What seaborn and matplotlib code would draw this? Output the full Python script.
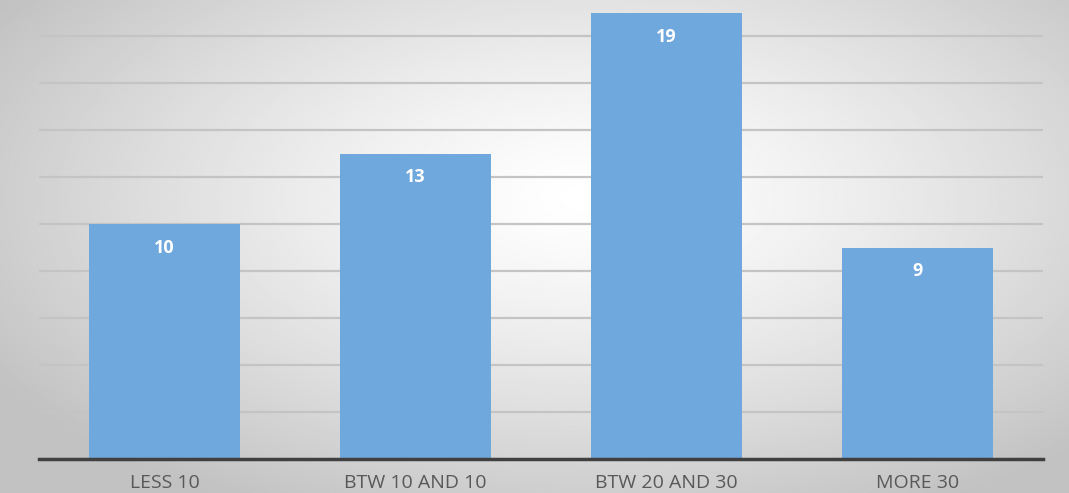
import numpy as np
import pandas as pd
import seaborn as sns
import matplotlib.pyplot as plt

categories = ["LESS 10", "BTW 10 AND 10", "BTW 20 AND 30", "MORE 30"]
counts = [10, 13, 19, 9]

df = pd.DataFrame({"group": categories, "count": counts})

sns.set_theme(style="white")
plt.rcParams['font.family'] = ['Open Sans', 'DejaVu Sans']

fig = plt.figure(figsize=(10.69, 4.93), dpi=100)

# radial gradient background
bg = fig.add_axes([0, 0, 1, 1], zorder=0)
yy, xx = np.mgrid[-1:1:300j, -1:1:600j]
r = np.sqrt(((xx - 0.1) / 1.0) ** 2 + ((yy + 0.2) / 1.1) ** 2)
bg.imshow(1 - 0.24 * np.clip(r / 1.3, 0, 1) ** 1.3, cmap="gray", vmin=0, vmax=1,
          aspect="auto", extent=[0, 1, 0, 1], interpolation="bilinear")
bg.axis("off")

ax = fig.add_axes([39 / 1069, 1 - 459 / 493, 1004 / 1069, 459 / 493], zorder=1)
ax.patch.set_alpha(0)
sns.barplot(df, x="group", y="count", color="#6fa8dc", saturation=1, width=0.6,
            edgecolor="none", linewidth=0, ax=ax, zorder=3)

ax.set_ylim(0, 459 / 23.5)
ax.set_yticks(np.arange(2, 20, 2))
ax.yaxis.grid(True, color="#c4c4c4", linewidth=1.6, zorder=0)
ax.set_axisbelow(True)
ax.tick_params(axis="y", left=False, labelleft=False)
ax.tick_params(axis="x", bottom=False, labelsize=14, colors="#595959", pad=5)
ax.set_xlabel("")
ax.set_ylabel("")
for s in ["top", "right", "left"]:
    ax.spines[s].set_visible(False)
ax.spines["bottom"].set_color("#404040")
ax.spines["bottom"].set_linewidth(2.5)
ax.spines["bottom"].set_zorder(4)

for i, v in enumerate(counts):
    ax.annotate(str(v), (i, v), xytext=(0, -24), textcoords="offset pixels",
                ha="center", va="center", color="white", fontweight="bold", fontsize=13, zorder=5)

fig.savefig("out.png", dpi=100)
